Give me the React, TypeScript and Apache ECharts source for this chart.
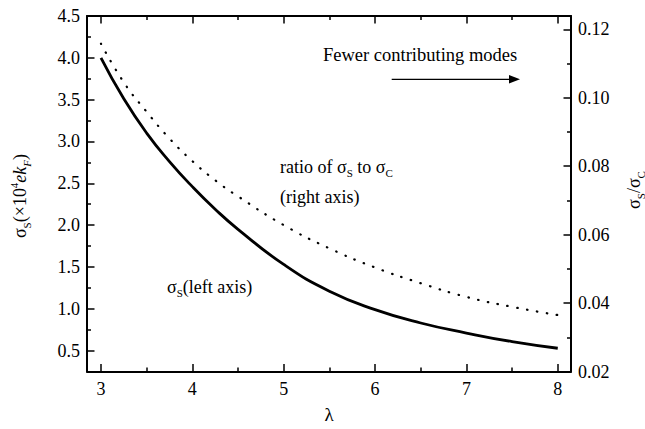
import React, { useEffect, useRef } from "react";
import * as echarts from "echarts";

const lambdas = [3, 3.25, 3.5, 3.75, 4, 4.25, 4.5, 5, 5.5, 6, 6.5, 7, 7.5, 8];
const sigmaS = [4.0, 3.51, 3.1, 2.76, 2.46, 2.19, 1.95, 1.53, 1.21, 0.99, 0.83, 0.71, 0.607, 0.528];
const ratio = [0.1158, 0.1045, 0.0959, 0.0881, 0.0815, 0.0759, 0.0712, 0.0628, 0.056, 0.0504, 0.0458, 0.0418, 0.0389, 0.0365];

const xMajor = [3, 4, 5, 6, 7, 8];
const xMinor = [3.5, 4.5, 5.5, 6.5, 7.5];
const leftMajor = [0.5, 1.0, 1.5, 2.0, 2.5, 3.0, 3.5, 4.0, 4.5];
const leftMinor = [0.75, 1.25, 1.75, 2.25, 2.75, 3.25, 3.75, 4.25];
const rightMajor = [0.02, 0.04, 0.06, 0.08, 0.1, 0.12];
const rightMinor = [0.03, 0.05, 0.07, 0.09, 0.11];

const X_MIN = 2.847;
const X_MAX = 8.145;
const L_MIN = 0.25;
const L_MAX = 4.5;
const R_MIN = 0.02;
const R_MAX = 0.1239;

const FONT = "Liberation Serif";

function rich(main: number, small: number) {
  return {
    a: { fontFamily: FONT, fontSize: main, lineHeight: 24, verticalAlign: "middle", fill: "#000", color: "#000" },
    b: { fontFamily: FONT, fontSize: small, lineHeight: 12, verticalAlign: "bottom", fill: "#000", color: "#000" },
    c: { fontFamily: FONT, fontSize: small, lineHeight: 12, verticalAlign: "top", fill: "#000", color: "#000" },
    i: { fontFamily: FONT, fontSize: main, lineHeight: 24, verticalAlign: "middle", fontStyle: "italic", fill: "#000", color: "#000" },
    d: { fontFamily: FONT, fontSize: small, lineHeight: 12, verticalAlign: "bottom", fontStyle: "italic", fill: "#000", color: "#000" },
  };
}

function xAxisDef(position: string, ticks: number[], major: boolean, labels: boolean) {
  return {
    type: "value",
    position,
    min: X_MIN,
    max: X_MAX,
    axisLine: { show: major, onZero: false, lineStyle: { color: "#000", width: 2 } },
    axisTick: {
      show: true,
      inside: true,
      length: major ? 7.5 : 4,
      customValues: ticks,
      lineStyle: { color: "#000", width: 1.5 },
    },
    axisLabel: labels
      ? { show: true, customValues: ticks, fontFamily: FONT, fontSize: 18, color: "#000", margin: 8, formatter: (v: number) => String(v) }
      : { show: false },
    splitLine: { show: false },
  };
}

function yAxisDef(position: string, min: number, max: number, ticks: number[], major: boolean, labels: boolean, digits: number) {
  return {
    type: "value",
    position,
    min,
    max,
    axisLine: { show: major, onZero: false, lineStyle: { color: "#000", width: 2 } },
    axisTick: {
      show: true,
      inside: true,
      length: major ? 7.5 : 4,
      customValues: ticks,
      lineStyle: { color: "#000", width: 1.5 },
    },
    axisLabel: labels
      ? { show: true, customValues: ticks, fontFamily: FONT, fontSize: 18, color: "#000", margin: 7, formatter: (v: number) => v.toFixed(digits) }
      : { show: false },
    splitLine: { show: false },
  };
}

export default function App() {
  const ref = useRef<HTMLDivElement>(null);
  useEffect(() => {
    if (!ref.current) return;
    const chart = echarts.init(ref.current, null, { renderer: "svg" });
    const option: any = {
      animation: false,
      textStyle: { fontFamily: FONT },
      grid: { left: 87, right: 74, top: 16, bottom: 57.5, containLabel: false, outerBoundsMode: "none" },
      xAxis: [
        xAxisDef("bottom", xMajor, true, true),
        xAxisDef("bottom", xMinor, false, false),
        xAxisDef("top", xMajor, true, false),
        xAxisDef("top", xMinor, false, false),
      ],
      yAxis: [
        yAxisDef("left", L_MIN, L_MAX, leftMajor, true, true, 1),
        yAxisDef("left", L_MIN, L_MAX, leftMinor, false, false, 1),
        yAxisDef("right", R_MIN, R_MAX, rightMajor, true, true, 2),
        yAxisDef("right", R_MIN, R_MAX, rightMinor, false, false, 2),
      ],
      series: [
        {
          type: "line",
          xAxisIndex: 0,
          yAxisIndex: 0,
          data: lambdas.map((l, k) => [l, sigmaS[k]]),
          smooth: true,
          showSymbol: false,
          lineStyle: { color: "#000", width: 2.8 },
          z: 3,
        },
        {
          type: "line",
          xAxisIndex: 0,
          yAxisIndex: 2,
          data: lambdas.map((l, k) => [l, ratio[k]]),
          smooth: true,
          showSymbol: false,
          lineStyle: { color: "#000", width: 2.2, type: [0.5, 9.5], cap: "round" },
          z: 3,
        },
      ],
      graphic: [
        {
          type: "text",
          x: 20,
          y: 196,
          rotation: Math.PI / 2,
          style: {
            text: "{a|σ}{b|S}{a|(×10}{c|4}{i|ek}{d|F}{a|)}",
            rich: rich(18, 11),
            fontFamily: FONT,
            align: "center",
            verticalAlign: "middle",
          },
        },
        {
          type: "text",
          x: 634,
          y: 190,
          rotation: Math.PI / 2,
          style: {
            text: "{a|σ}{b|S}{a|/σ}{b|C}",
            rich: rich(18, 11),
            fontFamily: FONT,
            align: "center",
            verticalAlign: "middle",
          },
        },
        {
          type: "text",
          x: 329,
          y: 414,
          style: { text: "λ", fontFamily: FONT, fontSize: 19, fill: "#000", align: "center", verticalAlign: "middle" },
        },
        {
          type: "text",
          x: 323,
          y: 55,
          style: { text: "Fewer contributing modes", fontFamily: FONT, fontSize: 18.5, fill: "#000", align: "left", verticalAlign: "middle" },
        },
        {
          type: "line",
          shape: { x1: 391.7, y1: 79.3, x2: 511, y2: 79.3 },
          style: { stroke: "#000", lineWidth: 1.3 },
        },
        {
          type: "polygon",
          shape: { points: [[509, 75], [520, 79.3], [509, 83.6]] },
          style: { fill: "#000" },
        },
        {
          type: "text",
          x: 280,
          y: 166.7,
          style: {
            text: "{a|ratio of σ}{b|S}{a| to σ}{b|C}",
            rich: rich(18, 11),
            fontFamily: FONT,
            align: "left",
            verticalAlign: "middle",
          },
        },
        {
          type: "text",
          x: 280,
          y: 196.7,
          style: { text: "(right axis)", fontFamily: FONT, fontSize: 18, fill: "#000", align: "left", verticalAlign: "middle" },
        },
        {
          type: "text",
          x: 167,
          y: 286.7,
          style: {
            text: "{a|σ}{b|S}{a|(left axis)}",
            rich: rich(18, 11),
            fontFamily: FONT,
            align: "left",
            verticalAlign: "middle",
          },
        },
      ],
    };
    chart.setOption(option);
    return () => chart.dispose();
  }, []);
  return (
    <div
      ref={ref}
      style={{ position: "fixed", left: 0, top: 0, width: 645, height: 429, background: "#fff" }}
    />
  );
}
